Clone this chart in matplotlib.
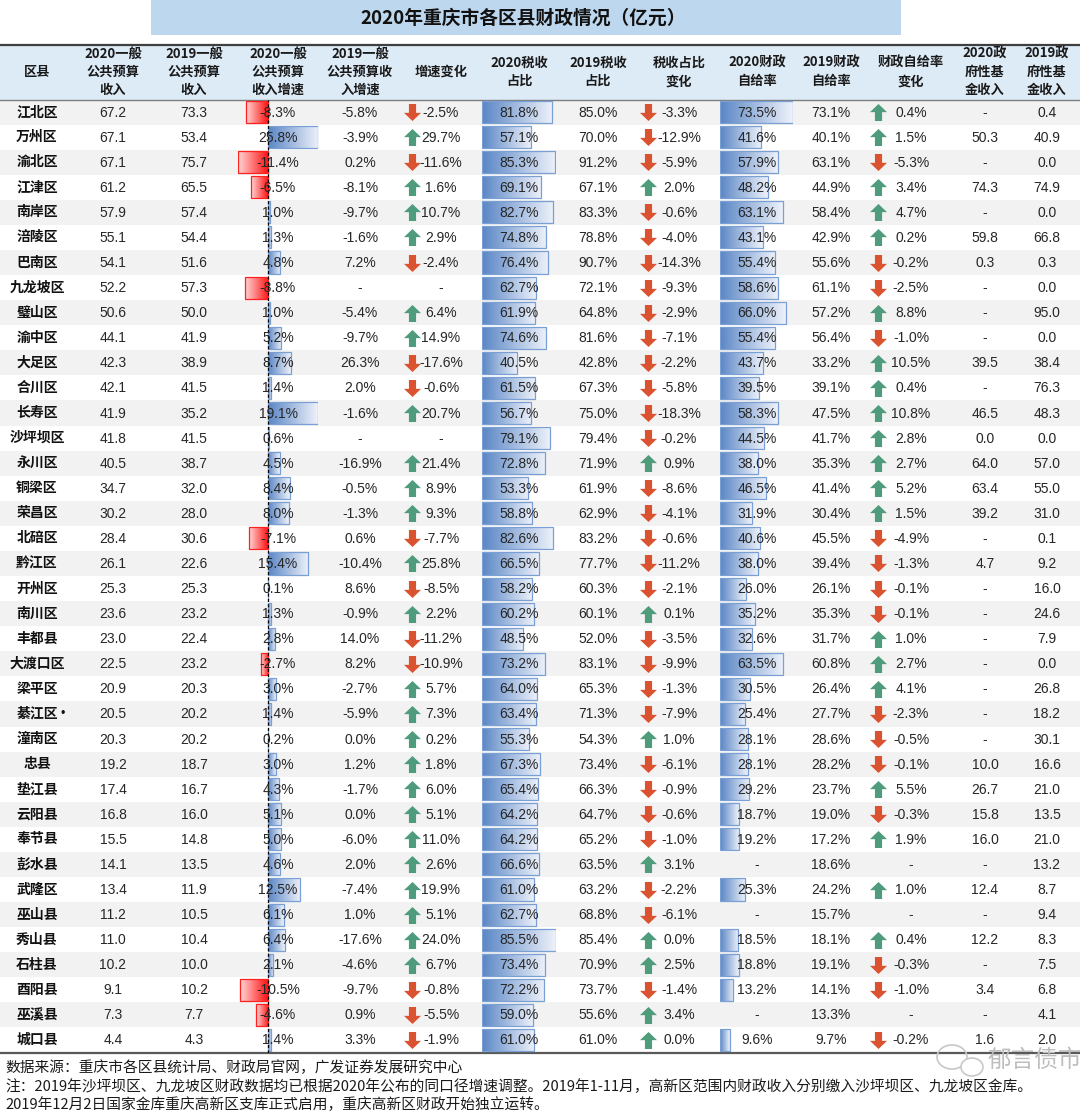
import numpy as np
import matplotlib.pyplot as plt
from matplotlib.path import Path
from matplotlib.patches import Rectangle, Ellipse
from matplotlib.colors import to_rgb

plt.rcParams['font.family'] = ['Noto Sans CJK SC', 'DejaVu Sans']
NUM = ['Liberation Sans', 'Noto Sans CJK SC']

nan = np.nan

# 数据
districts = ['江北区', '万州区', '渝北区', '江津区', '南岸区', '涪陵区', '巴南区', '九龙坡区',
             '璧山区', '渝中区', '大足区', '合川区', '长寿区', '沙坪坝区', '永川区', '铜梁区',
             '荣昌区', '北碚区', '黔江区', '开州区', '南川区', '丰都县', '大渡口区', '梁平区',
             '綦江区•', '潼南区', '忠县', '垫江县', '云阳县', '奉节县', '彭水县', '武隆区',
             '巫山县', '秀山县', '石柱县', '酉阳县', '巫溪县', '城口县']
income_2020 = [67.2, 67.1, 67.1, 61.2, 57.9, 55.1, 54.1, 52.2, 50.6, 44.1, 42.3, 42.1, 41.9,
               41.8, 40.5, 34.7, 30.2, 28.4, 26.1, 25.3, 23.6, 23.0, 22.5, 20.9, 20.5, 20.3,
               19.2, 17.4, 16.8, 15.5, 14.1, 13.4, 11.2, 11.0, 10.2, 9.1, 7.3, 4.4]
income_2019 = [73.3, 53.4, 75.7, 65.5, 57.4, 54.4, 51.6, 57.3, 50.0, 41.9, 38.9, 41.5, 35.2,
               41.5, 38.7, 32.0, 28.0, 30.6, 22.6, 25.3, 23.2, 22.4, 23.2, 20.3, 20.2, 20.2,
               18.7, 16.7, 16.0, 14.8, 13.5, 11.9, 10.5, 10.4, 10.0, 10.2, 7.7, 4.3]
growth_2020 = [-8.3, 25.8, -11.4, -6.5, 1.0, 1.3, 4.8, -8.8, 1.0, 5.2, 8.7, 1.4, 19.1, 0.6,
               4.5, 8.4, 8.0, -7.1, 15.4, 0.1, 1.3, 2.8, -2.7, 3.0, 1.4, 0.2, 3.0, 4.3, 5.1,
               5.0, 4.6, 12.5, 6.1, 6.4, 2.1, -10.5, -4.6, 1.4]
growth_2019 = [-5.8, -3.9, 0.2, -8.1, -9.7, -1.6, 7.2, nan, -5.4, -9.7, 26.3, 2.0, -1.6, nan,
               -16.9, -0.5, -1.3, 0.6, -10.4, 8.6, -0.9, 14.0, 8.2, -2.7, -5.9, 0.0, 1.2, -1.7,
               0.0, -6.0, 2.0, -7.4, 1.0, -17.6, -4.6, -9.7, 0.9, 3.3]
growth_chg = [-2.5, 29.7, -11.6, 1.6, 10.7, 2.9, -2.4, nan, 6.4, 14.9, -17.6, -0.6, 20.7, nan,
              21.4, 8.9, 9.3, -7.7, 25.8, -8.5, 2.2, -11.2, -10.9, 5.7, 7.3, 0.2, 1.8, 6.0,
              5.1, 11.0, 2.6, 19.9, 5.1, 24.0, 6.7, -0.8, -5.5, -1.9]
tax_2020 = [81.8, 57.1, 85.3, 69.1, 82.7, 74.8, 76.4, 62.7, 61.9, 74.6, 40.5, 61.5, 56.7, 79.1,
            72.8, 53.3, 58.8, 82.6, 66.5, 58.2, 60.2, 48.5, 73.2, 64.0, 63.4, 55.3, 67.3, 65.4,
            64.2, 64.2, 66.6, 61.0, 62.7, 85.5, 73.4, 72.2, 59.0, 61.0]
tax_2019 = [85.0, 70.0, 91.2, 67.1, 83.3, 78.8, 90.7, 72.1, 64.8, 81.6, 42.8, 67.3, 75.0, 79.4,
            71.9, 61.9, 62.9, 83.2, 77.7, 60.3, 60.1, 52.0, 83.1, 65.3, 71.3, 54.3, 73.4, 66.3,
            64.7, 65.2, 63.5, 63.2, 68.8, 85.4, 70.9, 73.7, 55.6, 61.0]
tax_chg = [-3.3, -12.9, -5.9, 2.0, -0.6, -4.0, -14.3, -9.3, -2.9, -7.1, -2.2, -5.8, -18.3, -0.2,
           0.9, -8.6, -4.1, -0.6, -11.2, -2.1, 0.1, -3.5, -9.9, -1.3, -7.9, 1.0, -6.1, -0.9,
           -0.6, -1.0, 3.1, -2.2, -6.1, 0.0, 2.5, -1.4, 3.4, 0.0]
self_2020 = [73.5, 41.6, 57.9, 48.2, 63.1, 43.1, 55.4, 58.6, 66.0, 55.4, 43.7, 39.5, 58.3, 44.5,
             38.0, 46.5, 31.9, 40.6, 38.0, 26.0, 35.2, 32.6, 63.5, 30.5, 25.4, 28.1, 28.1, 29.2,
             18.7, 19.2, nan, 25.3, nan, 18.5, 18.8, 13.2, nan, 9.6]
self_2019 = [73.1, 40.1, 63.1, 44.9, 58.4, 42.9, 55.6, 61.1, 57.2, 56.4, 33.2, 39.1, 47.5, 41.7,
             35.3, 41.4, 30.4, 45.5, 39.4, 26.1, 35.3, 31.7, 60.8, 26.4, 27.7, 28.6, 28.2, 23.7,
             19.0, 17.2, 18.6, 24.2, 15.7, 18.1, 19.1, 14.1, 13.3, 9.7]
self_chg = [0.4, 1.5, -5.3, 3.4, 4.7, 0.2, -0.2, -2.5, 8.8, -1.0, 10.5, 0.4, 10.8, 2.8, 2.7, 5.2,
            1.5, -4.9, -1.3, -0.1, -0.1, 1.0, 2.7, 4.1, -2.3, -0.5, -0.1, 5.5, -0.3, 1.9, nan,
            1.0, nan, 0.4, -0.3, -1.0, nan, -0.2]
fund_2020 = [nan, 50.3, nan, 74.3, nan, 59.8, 0.3, nan, nan, nan, 39.5, nan, 46.5, 0.0, 64.0,
             63.4, 39.2, nan, 4.7, nan, nan, nan, nan, nan, nan, nan, 10.0, 26.7, 15.8, 16.0,
             nan, 12.4, nan, 12.2, nan, 3.4, nan, 1.6]
fund_2019 = [0.4, 40.9, 0.0, 74.9, 0.0, 66.8, 0.3, 0.0, 95.0, 0.0, 38.4, 76.3, 48.3, 0.0, 57.0,
             55.0, 31.0, 0.1, 9.2, 16.0, 24.6, 7.9, 0.0, 26.8, 18.2, 30.1, 16.6, 21.0, 13.5,
             21.0, 13.2, 8.7, 9.4, 8.3, 7.5, 6.8, 4.1, 2.0]

headers = ['区县', '2020一般\n公共预算\n收入', '2019一般\n公共预算\n收入', '2020一般\n公共预算\n收入增速',
           '2019一般\n公共预算收\n入增速', '增速变化', '2020税收\n占比', '2019税收\n占比', '税收占比\n变化',
           '2020财政\n自给率', '2019财政\n自给率', '财政自给率\n变化', '2020政\n府性基\n金收入',
           '2019政\n府性基\n金收入']
title = '2020年重庆市各区县财政情况（亿元）'
notes = ['数据来源：重庆市各区县统计局、财政局官网，广发证券发展研究中心',
         '注：2019年沙坪坝区、九龙坡区财政数据均已根据2020年公布的同口径增速调整。2019年1-11月，高新区范围内财政收入分别缴入沙坪坝区、九龙坡区金库。',
         '2019年12月2日国家金库重庆高新区支库正式启用，重庆高新区财政开始独立运转。']

# 版式
W, H = 1080, 1113
TOP, ROW = 99.5, 25.08
n = len(districts)
BOTTOM = TOP + ROW * n
col_x = [37, 113, 194, 278, 360, 441, 519, 598, 679, 757, 831, 911, 985, 1047]
arrow_x = {5: 412, 8: 648, 11: 878}
GREEN, ORANGE = '#4E9C7C', '#DA5230'
BLUE, BLUE_EDGE = '#5A86C5', '#7A9FD4'
RED, RED_EDGE = '#FF1414', '#FF2020'

fig = plt.figure(figsize=(W / 100, H / 100), dpi=100)


def pixel_axes():
    a = fig.add_axes([0, 0, 1, 1])
    a.set_xlim(0, W)
    a.set_ylim(H, 0)
    a.axis('off')
    a.patch.set_alpha(0)
    return a


bg = pixel_axes()
bg.add_patch(Rectangle((151, 0), 750, 35, color='#BDD7EE', lw=0))
bg.add_patch(Rectangle((0, 45), W, TOP - 45, color='#DDEBF7', lw=0))
for i in range(0, n, 2):
    bg.add_patch(Rectangle((0, TOP + ROW * i), W, ROW, color='#F2F2F2', lw=0))
bg.plot([0, W], [45, 45], color='#3F3F3F', lw=1.6)
bg.plot([0, W], [TOP, TOP], color='#7F7F7F', lw=1.0)
bg.plot([0, W], [BOTTOM, BOTTOM], color='#595959', lw=1.6)

rows = np.arange(n)


def body_axes(x0, width):
    a = fig.add_axes([x0 / W, 1 - BOTTOM / H, width / W, ROW * n / H])
    a.axis('off')
    a.patch.set_alpha(0)
    return a


def data_bars(a, idx, vals, solid, edge, light):
    bars = a.barh(idx, vals, height=0.88, color='none', edgecolor=edge, linewidth=0.9, zorder=3)
    t = np.linspace(0, 1, 128)[None, :, None]
    grad = np.array(to_rgb(solid)) * (1 - t) + np.array(to_rgb(light)) * t
    for b, v in zip(bars, vals):
        y0 = b.get_y()
        im = a.imshow(grad, extent=(0, v, y0 + b.get_height(), y0), aspect='auto',
                      interpolation='bilinear', zorder=2)
        im.set_clip_path(b)


# 2020增速 数据条
g_lo, g_hi = -11.4, 19.2
g = np.clip(np.array(growth_2020), g_lo, g_hi)
ga = body_axes(238, 80)
pos = g >= 0
data_bars(ga, rows[pos], g[pos], BLUE, BLUE_EDGE, '#EEF2FA')
data_bars(ga, rows[~pos], g[~pos], RED, RED_EDGE, '#FFD6D6')
ga.axvline(0, color='black', lw=0.9, ls=(0, (2.5, 1.8)), zorder=4)
ga.set_xlim(g_lo, g_hi)
ga.set_ylim(n - 0.5, -0.5)

# 2020税收占比 数据条
t20 = np.array(tax_2020)
ta = body_axes(481.5, 74)
data_bars(ta, rows, t20, BLUE, BLUE_EDGE, '#EEF2FA')
ta.set_xlim(0, t20.max())
ta.set_ylim(n - 0.5, -0.5)

# 2020财政自给率 数据条
s20 = np.array(self_2020)
ok = ~np.isnan(s20)
sa = body_axes(720, 73)
data_bars(sa, rows[ok], s20[ok], BLUE, BLUE_EDGE, '#EEF2FA')
sa.set_xlim(0, np.nanmax(s20))
sa.set_ylim(n - 0.5, -0.5)

# 文字层
tx = pixel_axes()
tx.text(523, 18, title, ha='center', va='center', fontsize=13.5, fontweight='bold', color='#111111')
for x, h in zip(col_x, headers):
    tx.text(x, 72, h, ha='center', va='center', fontsize=9.5, fontweight='bold',
            linespacing=1.38, color='#1A1A1A')


def pct(v):
    return '-' if np.isnan(v) else f'{v:.1f}%'


def num(v):
    return '-' if np.isnan(v) else f'{v:.1f}'


columns = [(income_2020, num), (income_2019, num), (growth_2020, pct), (growth_2019, pct),
           (growth_chg, pct), (tax_2020, pct), (tax_2019, pct), (tax_chg, pct),
           (self_2020, pct), (self_2019, pct), (self_chg, pct), (fund_2020, num), (fund_2019, num)]

for i, name in enumerate(districts):
    y = TOP + ROW * (i + 0.5)
    base = name.rstrip('•')
    tx.text(col_x[0], y, base, ha='center', va='center', fontsize=10, fontweight='bold', color='#111111')
    if name.endswith('•'):
        tx.text(col_x[0] + 26, y, '•', ha='center', va='center', fontsize=9, color='#111111',
                family=NUM)
    for c, (vals, fmt) in enumerate(columns, start=1):
        tx.text(col_x[c], y + 0.5, fmt(vals[i]), ha='center', va='center', fontsize=10,
                family=NUM, color='#262626')

# 箭头图标
up_path = Path([(0, 0.5), (0.5, 0.02), (0.21, 0.02), (0.21, -0.5), (-0.21, -0.5), (-0.21, 0.02),
                (-0.5, 0.02), (0, 0.5)],
               [Path.MOVETO] + [Path.LINETO] * 6 + [Path.CLOSEPOLY])
down_path = Path(up_path.vertices * [1, -1], up_path.codes)
for c, vals in [(5, growth_chg), (8, tax_chg), (11, self_chg)]:
    v = np.array(vals)
    yy = TOP + ROW * (rows + 0.5)
    up = v >= 0
    dn = v < 0
    tx.scatter(np.full(up.sum(), arrow_x[c]), yy[up], marker=up_path, s=150, c=GREEN, lw=0)
    tx.scatter(np.full(dn.sum(), arrow_x[c]), yy[dn], marker=down_path, s=150, c=ORANGE, lw=0)

# 注释
for k, line in enumerate(notes):
    tx.text(5, 1068 + 18.5 * k, line, ha='left', va='center', fontsize=10.6, color='#1A1A1A')

# 水印
tx.add_patch(Ellipse((952, 1057), 30, 24, fill=False, ec='#C8C8C8', lw=1.2))
tx.add_patch(Ellipse((972, 1067), 22, 18, fc='white', ec='#C8C8C8', lw=1.2))
tx.text(1035, 1060, '郁言债市', ha='center', va='center', fontsize=17, color='#BDBDBD')

fig.savefig('out.png', dpi=100)
